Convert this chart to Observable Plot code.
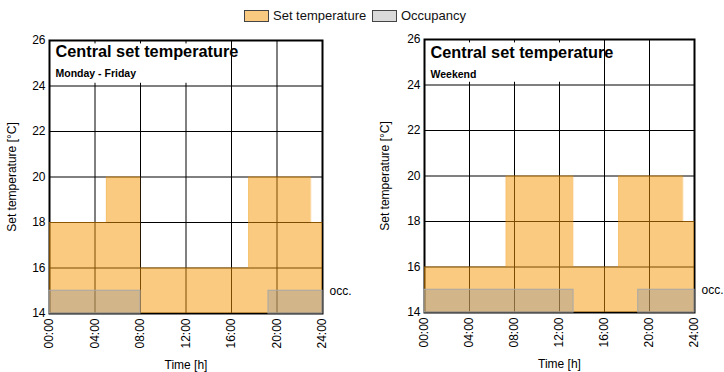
<!DOCTYPE html>
<html>
<head>
<meta charset="utf-8">
<script src="https://cdn.jsdelivr.net/npm/d3@7"></script>
<script src="https://cdn.jsdelivr.net/npm/@observablehq/plot@0.6"></script>
<style>
  html, body { margin: 0; padding: 0; background: white; overflow: hidden; }
  body { font-family: "Liberation Sans", Arial, sans-serif; width: 724px; height: 372px; }
  #legend { height: 28px; position: relative; font-size: 13px; color: #111; }
  .item { position: absolute; top: 8px; display: flex; align-items: center; }
  .sw { width: 25px; height: 12px; border: 1px solid #444; box-sizing: border-box; margin-right: 4px; }
  #row { display: flex; }
</style>
</head>
<body>
<div id="legend"></div>
<div id="row"></div>
<script>
// ---- data ----
const legendLabels = ["Set temperature", "Occupancy"];
const xTicks = [0, 4, 8, 12, 16, 20, 24];
const yTicks = [14, 16, 18, 20, 22, 24, 26];
const gridX = [4, 8, 12, 16, 20];
const gridY = [16, 18, 20, 22, 24];

const panelTitles = ["Central set temperature", "Central set temperature"];
const panelSubtitles = ["Monday - Friday", "Weekend"];

const weekdayHours = [0, 5, 8, 17.5, 23, 24];
const weekdayTemps = [18, 20, 16, 20, 18, 18];
const weekendHours = [0, 7.25, 13.25, 17.25, 23, 24];
const weekendTemps = [16, 20, 16, 20, 18, 18];

const weekdayOccStart = [0, 19.25];
const weekdayOccEnd = [8, 24];
const weekendOccStart = [0, 19];
const weekendOccEnd = [13.25, 24];
const occLevel = 15;
const occLabel = "occ.";

// ---- styles ----
const orange = "#f39600";
const greyOcc = "#999999";

// legend
const legend = document.getElementById("legend");
const legendItems = [
  {label: legendLabels[0], color: "#f9ca80", left: 244},
  {label: legendLabels[1], color: "#d9d9d9", left: 372}
];
for (const it of legendItems) {
  const d = document.createElement("div");
  d.className = "item";
  d.style.left = it.left + "px";
  const s = document.createElement("div");
  s.className = "sw";
  s.style.background = it.color;
  d.appendChild(s);
  const t = document.createElement("span");
  t.textContent = it.label;
  d.appendChild(t);
  legend.appendChild(d);
}

const fmt = d => String(d).padStart(2, "0") + ":00";

function panel(hours, temps, occS, occE, title, subtitle, m) {
  const setData = hours.map((h, i) => ({h, t: temps[i]}));
  const occData = occS.map((s, i) => ({s, e: occE[i]}));
  return Plot.plot({
    width: 362,
    height: 344,
    marginLeft: m.left,
    marginRight: m.right,
    marginTop: m.top,
    marginBottom: m.bottom,
    style: {fontFamily: "'Liberation Sans', Arial, sans-serif", fontSize: "12px", color: "black", background: "white"},
    x: {domain: [0, 24]},
    y: {domain: [14, 26]},
    marks: [
      Plot.ruleX(gridX, {stroke: "black", strokeWidth: 1}),
      Plot.ruleY(gridY, {stroke: "black", strokeWidth: 1}),
      Plot.rect([0], {x1: 0, x2: 15.4, y1: 24.12, y2: 25.85, fill: "white"}),
      Plot.frame({stroke: "black", strokeWidth: 2}),
      Plot.text([title], {frameAnchor: "top-left", dx: 6, dy: m.titleDy, lineAnchor: "top", textAnchor: "start", fontWeight: "bold", fontSize: 16.3, fill: "black"}),
      Plot.text([subtitle], {frameAnchor: "top-left", dx: 6, dy: m.titleDy + 24, lineAnchor: "top", textAnchor: "start", fontWeight: "bold", fontSize: 10.5, fill: "black"}),
      Plot.areaY(setData, {x: "h", y1: 14, y2: "t", curve: "step-after", fill: orange, fillOpacity: 0.5}),
      Plot.lineY(setData, {x: "h", y: "t", curve: "step-after", stroke: orange, strokeOpacity: 0.15, strokeWidth: 1}),
      Plot.rect(occData, {x1: "s", x2: "e", y1: 14, y2: occLevel, fill: greyOcc, fillOpacity: 0.4, stroke: "#a8a8a8", strokeWidth: 1}),
      Plot.text([occLabel], {x: 24, y: occLevel, dx: 7, textAnchor: "start", fontSize: 12, fill: "black"}),
      Plot.axisY(yTicks, {tickSize: 0, tickPadding: 4, fontSize: 12, label: "Set temperature [°C]", labelAnchor: "center", labelArrow: "none", labelOffset: m.labelOffset}),
      Plot.axisX(xTicks, {tickSize: 0, tickPadding: 5, tickRotate: -90, tickFormat: fmt, fontSize: 12, label: "Time [h]", labelAnchor: "center", labelArrow: "none", labelOffset: 55})
    ]
  });
}

const row = document.getElementById("row");
row.appendChild(panel(weekdayHours, weekdayTemps, weekdayOccStart, weekdayOccEnd, panelTitles[0], panelSubtitles[0],
  {left: 49, right: 40, top: 12, bottom: 59, titleDy: 5, labelOffset: 42}));
row.appendChild(panel(weekendHours, weekendTemps, weekendOccStart, weekendOccEnd, panelTitles[1], panelSubtitles[1],
  {left: 62, right: 30, top: 11, bottom: 60, titleDy: 7, labelOffset: 44}));
</script>
</body>
</html>
